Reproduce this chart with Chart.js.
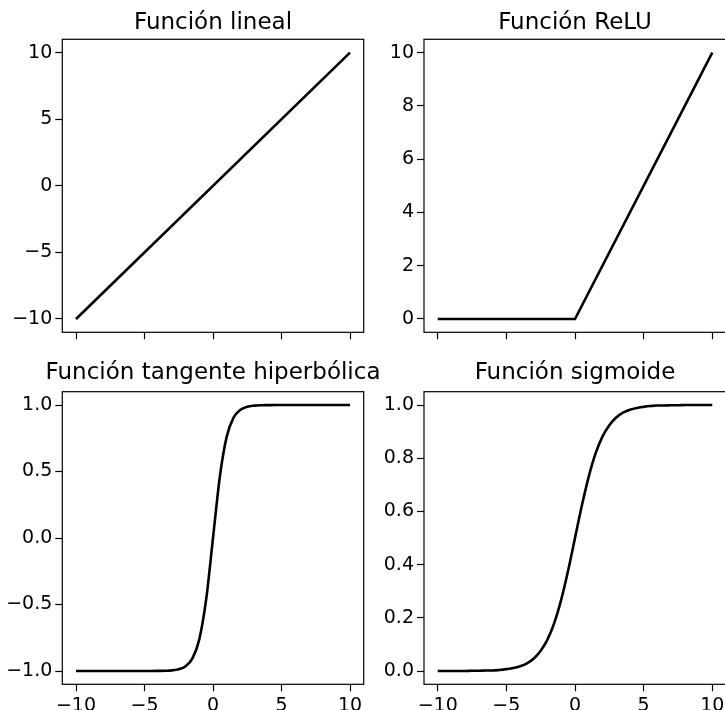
<!DOCTYPE html>
<html>
<head>
<meta charset="utf-8">
<script src="https://cdn.jsdelivr.net/npm/chart.js@4.4.1/dist/chart.umd.min.js"></script>
<style>
  html, body { margin: 0; padding: 0; background: #fff; overflow: hidden; }
  body { width: 725px; height: 710px; position: relative; }
  canvas { position: absolute; }
</style>
</head>
<body>
<canvas id="lineal" width="426" height="350" style="left:0;top:0"></canvas>
<canvas id="relu" width="410" height="350" style="left:370px;top:0"></canvas>
<canvas id="tanh" width="426" height="360" style="left:0;top:350px"></canvas>
<canvas id="sigmoide" width="410" height="360" style="left:370px;top:350px"></canvas>
<script>
// datos de cada función
const linealX = [-10, 10];
const linealY = [-10, 10];

const reluX = [-10, 0, 10];
const reluY = [0, 0, 10];

const curvaX = [-10, -9.5, -9, -8.5, -8, -7.5, -7, -6.5, -6, -5.5, -5, -4.5, -4, -3.5, -3, -2.5, -2, -1.5, -1, -0.5,
  0, 0.5, 1, 1.5, 2, 2.5, 3, 3.5, 4, 4.5, 5, 5.5, 6, 6.5, 7, 7.5, 8, 8.5, 9, 9.5, 10];
const tanhY = [-1, -1, -1, -1, -1, -1, -1, -1, -1, -1, -1, -1, -0.999, -0.998, -0.995, -0.987, -0.964, -0.905, -0.762, -0.462,
  0, 0.462, 0.762, 0.905, 0.964, 0.987, 0.995, 0.998, 0.999, 1, 1, 1, 1, 1, 1, 1, 1, 1, 1, 1, 1];
const sigmoideY = [0, 0, 0, 0, 0, 0.001, 0.001, 0.002, 0.002, 0.004, 0.007, 0.011, 0.018, 0.029, 0.047, 0.076, 0.119, 0.182, 0.269, 0.378,
  0.5, 0.622, 0.731, 0.818, 0.881, 0.924, 0.953, 0.971, 0.982, 0.989, 0.993, 0.996, 0.998, 0.998, 0.999, 0.999, 1, 1, 1, 1, 1];

// marcas de los ejes
const xTicks = [-10, -5, 0, 5, 10];
const linealTicks = [-10, -5, 0, 5, 10];
const reluTicks = [0, 2, 4, 6, 8, 10];
const tanhTicks = [-1, -0.5, 0, 0.5, 1];
const sigmoideTicks = [0, 0.2, 0.4, 0.6, 0.8, 1];

Chart.defaults.font.family = "'DejaVu Sans', sans-serif";
Chart.defaults.color = '#000';

// recuadro negro alrededor del área de dibujo
const marco = {
  id: 'marco',
  afterDraw(chart) {
    const { ctx, chartArea: a } = chart;
    ctx.save();
    ctx.strokeStyle = '#000';
    ctx.lineWidth = 1.2;
    ctx.strokeRect(a.left, a.top, a.right - a.left, a.bottom - a.top);
    ctx.restore();
  }
};

function fmt(dec) {
  return v => Number(v).toFixed(dec).replace('-', '\u2212');
}

function grafica(id, titulo, xs, ys, yMin, yMax, yTicks, dec, o) {
  const suave = o.suave || false;
  new Chart(document.getElementById(id), {
    type: 'line',
    data: {
      datasets: [{
        data: xs.map((x, i) => ({ x: x, y: ys[i] })),
        borderColor: '#000',
        borderWidth: 2.6,
        pointRadius: 0,
        fill: false,
        tension: 0,
        cubicInterpolationMode: suave ? 'monotone' : 'default'
      }]
    },
    options: {
      responsive: false,
      animation: false,
      devicePixelRatio: 1,
      layout: { padding: 0 },
      plugins: {
        legend: { display: false },
        tooltip: { enabled: false },
        title: {
          display: true,
          text: titulo,
          color: '#000',
          font: { size: 23, weight: 'normal' },
          padding: { top: o.tituloArriba, bottom: o.tituloAbajo }
        }
      },
      scales: {
        x: {
          type: 'linear',
          min: -11,
          max: 11,
          afterBuildTicks: s => { s.ticks = xTicks.map(v => ({ value: v })); },
          afterFit: s => { s.height = o.altoX; },
          border: { display: false },
          grid: { drawOnChartArea: false, tickLength: 7, tickWidth: 1.2, tickColor: '#000' },
          ticks: { display: o.etiquetasX, autoSkip: false, maxRotation: 0, padding: 3, font: { size: 19 }, callback: fmt(0) }
        },
        y: {
          type: 'linear',
          min: yMin,
          max: yMax,
          afterBuildTicks: s => { s.ticks = yTicks.map(v => ({ value: v })); },
          afterFit: s => { s.width = o.anchoY; },
          border: { display: false },
          grid: { drawOnChartArea: false, tickLength: 7, tickWidth: 1.2, tickColor: '#000' },
          ticks: { autoSkip: false, padding: 3, font: { size: 19 }, callback: fmt(dec) }
        },
        // eje vacío a la derecha para que el título quede centrado sobre el área
        y2: {
          position: 'right',
          grid: { display: false },
          border: { display: false },
          ticks: { display: false },
          afterFit: s => { s.width = o.anchoY; }
        }
      }
    },
    plugins: [marco]
  });
}

grafica('lineal', 'Función lineal', linealX, linealY, -11, 11, linealTicks, 0,
  { anchoY: 62.3, altoX: 17.7, etiquetasX: false, tituloArriba: 9, tituloAbajo: 2.7 });
grafica('relu', 'Función ReLU', reluX, reluY, -0.5, 10.5, reluTicks, 0,
  { anchoY: 54, altoX: 17.7, etiquetasX: false, tituloArriba: 9, tituloAbajo: 2.7 });
grafica('tanh', 'Función tangente hiperbólica', curvaX, tanhY, -1.1, 1.1, tanhTicks, 1,
  { anchoY: 62.3, altoX: 25.7, etiquetasX: true, tituloArriba: 9.2, tituloAbajo: 4.9, suave: true });
grafica('sigmoide', 'Función sigmoide', curvaX, sigmoideY, -0.05, 1.05, sigmoideTicks, 1,
  { anchoY: 54, altoX: 25.7, etiquetasX: true, tituloArriba: 9.2, tituloAbajo: 4.9, suave: true });
</script>
</body>
</html>
